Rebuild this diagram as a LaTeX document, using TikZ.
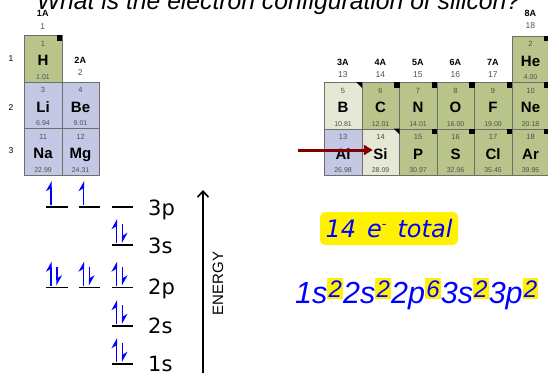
\documentclass[tikz,border=0pt]{standalone}
\usepackage{fontspec}
\setmainfont{Liberation Sans}
\newfontfamily\comicfont{DejaVu Sans}
\usepackage{tikz}
\usetikzlibrary{arrows.meta}

\definecolor{cellgreen}{RGB}{184,196,138}
\definecolor{celllav}{RGB}{196,200,228}
\definecolor{cellpale}{RGB}{228,232,212}
\definecolor{cellline}{RGB}{110,110,110}
\definecolor{numgray}{RGB}{80,80,80}
\definecolor{pointred}{RGB}{128,0,0}
\definecolor{orbblue}{RGB}{0,0,255}

% cella della tavola: nome, x, y, colore, Z, simbolo, massa
\newcommand{\element}[7]{%
  \node[cell, fill=#4] (#1) at (#2,#3) {};
  \node[znum] (#1-z) at ([yshift=-11pt]#1.north) {#5};
  \node[sym]  (#1-s) at ([yshift=-30.5pt]#1.north) {#6};
  \node[mass] (#1-m) at ([yshift=-44pt]#1.north) {#7};
}
\newcommand{\sqmark}[1]{\fill ([xshift=-5.5pt]#1.north east) rectangle ([yshift=-5.5pt]#1.north east);}
\newcommand{\trimark}[1]{\fill (#1.north east) -- ([xshift=-6pt]#1.north east) -- ([yshift=-6pt]#1.north east) -- cycle;}

% orbitale: nome, x centro, y linea, elettroni
\newcommand{\orbital}[4]{%
  \node[orbbox] (#1) at (#2,#3) {};
  \draw[level] (#1.south west) -- (#1.south east);
  \ifnum#4>0 \draw[spinup] ([xshift=-6pt,yshift=2pt]#1.south) -- ([xshift=-6pt]#1.north);\fi
  \ifnum#4>1 \draw[spindown] ([yshift=-5pt]#1.north) -- ([yshift=2pt]#1.south);\fi
}

% esponente evidenziato
\newcommand{\supbox}[1]{\raisebox{5.5pt}{\setlength{\fboxsep}{1.2pt}\colorbox{yellow}{\fontsize{24}{24}\selectfont\rule{0pt}{18.5pt}#1}}}

\begin{document}
\begin{tikzpicture}[
        x=1pt, y=-1pt,                 % coordinate in pixel, y verso il basso
        cell/.style={draw=cellline, line width=0.6pt, minimum width=37.5pt,
            minimum height=46.5pt, anchor=north west, inner sep=0pt},
        znum/.style={anchor=base, inner sep=0pt, text=numgray, font=\fontsize{7.5}{8}\selectfont},
        sym/.style={anchor=base, inner sep=0.5pt, font=\bfseries\fontsize{15}{16}\selectfont},
        mass/.style={anchor=base, inner sep=0pt, text=numgray, font=\fontsize{7}{7}\selectfont},
        group/.style={anchor=base, inner sep=0pt, font=\bfseries\fontsize{9}{10}\selectfont},
        colnum/.style={anchor=base, inner sep=0pt, text=numgray, font=\fontsize{8.5}{9}\selectfont},
        period/.style={anchor=base, inner sep=0pt, font=\fontsize{8.5}{9}\selectfont},
        orbbox/.style={minimum width=21.5pt, minimum height=26pt, anchor=south,
            inner sep=0pt, outer sep=0pt},
        level/.style={line width=1.3pt},
        spinup/.style={orbblue, line width=1.3pt, -{Stealth[harpoon, length=9pt, width=10pt]}},
        spindown/.style={orbblue, line width=1.3pt, -{Stealth[harpoon, length=9pt, width=10pt]}},
        sublevel/.style={anchor=base west, inner sep=0pt, font=\comicfont\fontsize{21}{24}\selectfont},
        energy/.style={line width=1.6pt, -{Straight Barb[length=6pt, width=11pt]}},
        pointer/.style={pointred, line width=3pt, -{Triangle[length=9pt, width=10pt]}},
        question/.style={anchor=base, inner sep=0pt, font=\itshape\fontsize{24.7}{28}\selectfont},
        totalbox/.style={fill=yellow, rounded corners=5pt, minimum width=138pt,
            minimum height=33pt, text=orbblue, font=\comicfont\itshape\fontsize{24}{28}\selectfont},
        config/.style={anchor=base west, inner sep=0pt, text=orbblue,
            font=\itshape\fontsize{30.5}{34}\selectfont}
    ]
    \useasboundingbox (0,0) rectangle (548,373);

    % --- Domanda ---
    \node[question] (title) at (278.5,9.5) {What is the electron configuration of silicon?};

    % --- Tavola periodica, parte sinistra ---
    \node[group]  (g1A) at (42.75,16) {1A};
    \node[colnum] (c1)  at (42.75,29) {1};
    \node[group]  (g2A) at (80.25,63) {2A};
    \node[colnum] (c2)  at (80.25,75.5) {2};
    \node[period] (p1) at (11,61) {1};
    \node[period] (p2) at (11,110) {2};
    \node[period] (p3) at (11,153) {3};

    \element{H}{24}{35}{cellgreen}{1}{H}{1.01}
    \element{Li}{24}{81.5}{celllav}{3}{Li}{6.94}
    \element{Be}{61.5}{81.5}{celllav}{4}{Be}{9.01}
    \element{Na}{24}{128}{celllav}{11}{Na}{22.99}
    \element{Mg}{61.5}{128}{celllav}{12}{Mg}{24.31}
    \sqmark{H}

    % --- Tavola periodica, parte destra ---
    \node[group]  (g3A) at (342.75,65) {3A};
    \node[colnum] (c13) at (342.75,77) {13};
    \node[group]  (g4A) at (380.25,65) {4A};
    \node[colnum] (c14) at (380.25,77) {14};
    \node[group]  (g5A) at (417.75,65) {5A};
    \node[colnum] (c15) at (417.75,77) {15};
    \node[group]  (g6A) at (455.25,65) {6A};
    \node[colnum] (c16) at (455.25,77) {16};
    \node[group]  (g7A) at (492.75,65) {7A};
    \node[colnum] (c17) at (492.75,77) {17};
    \node[group]  (g8A) at (530.25,16) {8A};
    \node[colnum] (c18) at (530.25,28.5) {18};

    \element{He}{511.5}{35.5}{cellgreen}{2}{He}{4.00}
    \element{B}{324}{82}{cellpale}{5}{B}{10.81}
    \element{C}{361.5}{82}{cellgreen}{6}{C}{12.01}
    \element{N}{399}{82}{cellgreen}{7}{N}{14.01}
    \element{O}{436.5}{82}{cellgreen}{8}{O}{16.00}
    \element{F}{474}{82}{cellgreen}{9}{F}{19.00}
    \element{Ne}{511.5}{82}{cellgreen}{10}{Ne}{20.18}
    \element{Al}{324}{128.5}{celllav}{13}{Al}{26.98}
    \element{Si}{361.5}{128.5}{cellpale}{14}{Si}{28.09}
    \element{P}{399}{128.5}{cellgreen}{15}{P}{30.97}
    \element{S}{436.5}{128.5}{cellgreen}{16}{S}{32.06}
    \element{Cl}{474}{128.5}{cellgreen}{17}{Cl}{35.45}
    \element{Ar}{511.5}{128.5}{cellgreen}{18}{Ar}{39.95}
    \sqmark{He} \sqmark{C} \sqmark{N} \sqmark{O} \sqmark{F} \sqmark{Ne}
    \sqmark{P} \sqmark{S} \sqmark{Cl} \sqmark{Ar}
    \trimark{B} \trimark{Si}

    % --- Freccia sul silicio ---
    \coordinate (pointer start) at (298,150);
    \draw[pointer] (pointer start) -- (Si-s.west |- pointer start);

    % --- Diagramma degli orbitali ---
    \orbital{o3pa}{57}{207}{1}
    \orbital{o3pb}{89.5}{207}{1}
    \orbital{o3pc}{122.5}{207}{0}
    \orbital{o3s}{122.5}{245}{2}
    \orbital{o2pa}{57}{287.5}{2}
    \orbital{o2pb}{89.5}{287.5}{2}
    \orbital{o2pc}{122.5}{287.5}{2}
    \orbital{o2s}{122.5}{326}{2}
    \orbital{o1s}{122.5}{364}{2}

    \node[sublevel] (l3p) at (148,215) {3p};
    \node[sublevel] (l3s) at (148,253) {3s};
    \node[sublevel] (l2p) at (148,294) {2p};
    \node[sublevel] (l2s) at (148,333) {2s};
    \node[sublevel] (l1s) at (148,371) {1s};

    % --- Asse dell'energia ---
    \coordinate (ebase) at (203,373);
    \coordinate (etop) at (203,190);
    \draw[energy] (ebase) -- (etop);
    \node[rotate=90, font=\fontsize{15}{16}\selectfont] (elabel) at (218,283.5) {ENERGY};

    % --- Configurazione ---
    \node[totalbox] (total) at (389,228.5) {14\hspace{11pt}e\raisebox{9pt}{\fontsize{13}{13}\selectfont -}\hspace{11pt}total};
    \node[config] (config) at (295,303) {1s\supbox{2}2s\supbox{2}2p\supbox{6}3s\supbox{2}3p\supbox{2}};

\end{tikzpicture}
\end{document}
